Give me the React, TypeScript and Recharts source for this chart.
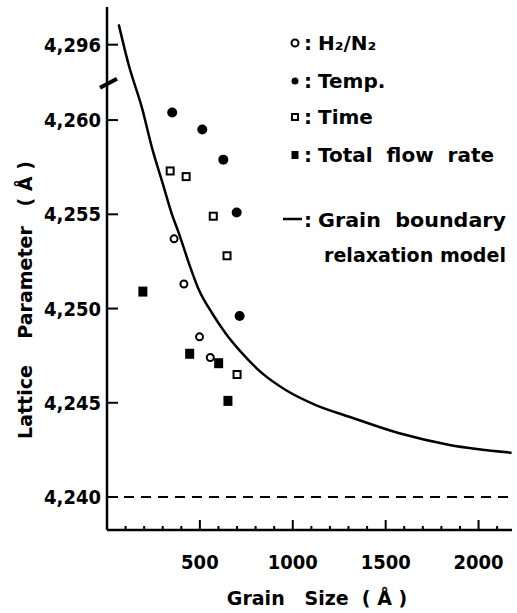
import { ComposedChart, Line, Scatter, XAxis, YAxis, ReferenceLine } from 'recharts'

const FONT = '"DejaVu Sans Condensed", "DejaVu Sans", sans-serif'
const WIDE = '"DejaVu Sans", sans-serif'

// measured points, [grain size (Å), lattice parameter (Å)]
const h2n2 = [
  { x: 361, y: 4.2537 },
  { x: 414, y: 4.2513 },
  { x: 498, y: 4.2485 },
  { x: 556, y: 4.2474 },
]
const temp = [
  { x: 351, y: 4.2604 },
  { x: 513, y: 4.2595 },
  { x: 626, y: 4.2579 },
  { x: 698, y: 4.2551 },
  { x: 714, y: 4.2496 },
]
const time = [
  { x: 340, y: 4.2573 },
  { x: 426, y: 4.257 },
  { x: 572, y: 4.2549 },
  { x: 646, y: 4.2528 },
  { x: 700, y: 4.2465 },
]
const flowRate = [
  { x: 193, y: 4.2509 },
  { x: 445, y: 4.2476 },
  { x: 601, y: 4.2471 },
  { x: 651, y: 4.2451 },
]

// grain boundary relaxation model (top part sits above the axis break)
const model = [
  { x: 63, y: 4.26508 },
  { x: 117, y: 4.26292 },
  { x: 189, y: 4.26062 },
  { x: 243, y: 4.2585 },
  { x: 297, y: 4.25673 },
  { x: 351, y: 4.25496 },
  { x: 387, y: 4.25399 },
  { x: 441, y: 4.2524 },
  { x: 495, y: 4.25098 },
  { x: 566, y: 4.24975 },
  { x: 639, y: 4.24868 },
  { x: 728, y: 4.24762 },
  { x: 836, y: 4.24656 },
  { x: 962, y: 4.24568 },
  { x: 1124, y: 4.24488 },
  { x: 1304, y: 4.24426 },
  { x: 1574, y: 4.24338 },
  { x: 1844, y: 4.24276 },
  { x: 2178, y: 4.24235 },
]

const bulkValue = 4.24

const xTicks = [
  100, 200, 300, 400, 500, 600, 700, 800, 900, 1000, 1100, 1200, 1300, 1400, 1500, 1600, 1700,
  1800, 1900, 2000, 2100,
]
const xLabelTicks = [500, 1000, 1500, 2000]
const yTicks = [4.24, 4.245, 4.25, 4.255, 4.26, 4.264]
const yTickLabels = ['4,240', '4,245', '4,250', '4,255', '4,260', '4,296']

const XTick = (props: any) => {
  const { x, y, payload } = props
  const major = xLabelTicks.includes(payload.value)
  return (
    <g>
      <line x1={x} y1={y} x2={x} y2={y - (major ? 10 : 4)} stroke="#000" strokeWidth={2} />
      {major && (
        <text x={x} y={y + 39} textAnchor="middle" fontFamily={FONT} fontWeight="bold" fontSize={20} fill="#000">
          {payload.value}
        </text>
      )}
    </g>
  )
}

const YTick = (props: any) => {
  const { x, y, payload } = props
  const i = yTicks.indexOf(payload.value)
  return (
    <g>
      <line x1={x} y1={y} x2={x + 11} y2={y} stroke="#000" strokeWidth={2} />
      <text x={x - 6} y={y + 7} textAnchor="end" fontFamily={FONT} fontWeight="bold" fontSize={20} fill="#000">
        {yTickLabels[i]}
      </text>
      {i === yTicks.length - 1 && (
        <line x1={x - 7} y1={y + 43} x2={x + 10} y2={y + 34} stroke="#000" strokeWidth={4} />
      )}
    </g>
  )
}

const openCircle = (p: any) => <circle cx={p.cx} cy={p.cy} r={3.5} fill="#fff" stroke="#000" strokeWidth={2} />
const filledCircle = (p: any) => <circle cx={p.cx} cy={p.cy} r={5} fill="#000" />
const openSquare = (p: any) => (
  <rect x={p.cx - 3.5} y={p.cy - 3.5} width={7} height={7} fill="#fff" stroke="#000" strokeWidth={2} />
)
const filledSquare = (p: any) => <rect x={p.cx - 4.5} y={p.cy - 5} width={9} height={10} fill="#000" />

const legendRows = [
  { label: 'H₂/N₂', y: 43, mark: 'oc' },
  { label: 'Temp.', y: 81, mark: 'fc' },
  { label: 'Time', y: 117, mark: 'os' },
  { label: 'Total  flow  rate', y: 155, mark: 'fs' },
]

export default function App() {
  return (
    <div style={{ position: 'absolute', left: 0, top: 0, width: 517, height: 613, background: '#fff' }}>
      <ComposedChart width={517} height={613} margin={{ top: 7, right: 5, bottom: 0, left: 0 }}>
        <XAxis
          xAxisId="x"
          dataKey="x"
          type="number"
          domain={[0, 2180]}
          allowDataOverflow
          ticks={xTicks}
          interval={0}
          tickSize={0}
          tickMargin={0}
          tick={XTick}
          height={83}
          axisLine={{ stroke: '#000', strokeWidth: 2.5 }}
        />
        <XAxis xAxisId="top" orientation="top" type="number" domain={[0, 2180]} height={0} tick={false} tickLine={false} axisLine={{ stroke: '#000', strokeWidth: 2.5 }} />
        <YAxis
          yAxisId="y"
          dataKey="y"
          type="number"
          domain={[4.23825, 4.266]}
          allowDataOverflow
          ticks={yTicks}
          interval={0}
          tickSize={0}
          tickMargin={0}
          tick={YTick}
          width={107}
          axisLine={{ stroke: '#000', strokeWidth: 2.5 }}
        />
        <YAxis yAxisId="right" orientation="right" type="number" domain={[4.23825, 4.266]} width={0} tick={false} tickLine={false} axisLine={{ stroke: '#000', strokeWidth: 2.5 }} />
        <ReferenceLine xAxisId="x" yAxisId="y" y={bulkValue} stroke="#000" strokeWidth={2} strokeDasharray="10 7" />
        <Line
          xAxisId="x"
          yAxisId="y"
          data={model}
          dataKey="y"
          type="monotone"
          stroke="#000"
          strokeWidth={2.5}
          dot={false}
          isAnimationActive={false}
        />
        <Scatter xAxisId="x" yAxisId="y" data={h2n2} shape={openCircle} isAnimationActive={false} />
        <Scatter xAxisId="x" yAxisId="y" data={temp} shape={filledCircle} isAnimationActive={false} />
        <Scatter xAxisId="x" yAxisId="y" data={time} shape={openSquare} isAnimationActive={false} />
        <Scatter xAxisId="x" yAxisId="y" data={flowRate} shape={filledSquare} isAnimationActive={false} />
      </ComposedChart>
      <svg width={517} height={613} style={{ position: 'absolute', left: 0, top: 0, pointerEvents: 'none' }}>
        <g fontFamily={WIDE} fontWeight="bold" fontSize={20} fill="#000">
          {legendRows.map((r) => (
            <g key={r.label}>
              {r.mark === 'oc' && openCircle({ cx: 295, cy: r.y })}
              {r.mark === 'fc' && <circle cx={295} cy={r.y} r={3.5} fill="#000" />}
              {r.mark === 'os' && <rect x={292} y={r.y - 3} width={6} height={6} fill="#fff" stroke="#000" strokeWidth={2} />}
              {r.mark === 'fs' && <rect x={291.5} y={r.y - 4} width={7} height={8} fill="#000" />}
              <text x={304} y={r.y + 7}>:</text>
              <text x={318} y={r.y + 7} xmlSpace="preserve">{r.label}</text>
            </g>
          ))}
          <line x1={283} y1={219} x2={302} y2={219} stroke="#000" strokeWidth={2.5} />
          <text x={304} y={227}>:</text>
          <text x={318} y={227} xmlSpace="preserve" textLength={188} lengthAdjust="spacingAndGlyphs">
            Grain  boundary
          </text>
          <text x={324} y={262} textLength={182} lengthAdjust="spacingAndGlyphs">
            relaxation model
          </text>
          <text x={317} y={605} textAnchor="middle" fontSize={19} xmlSpace="preserve">Grain   Size  ( Å )</text>
          <text
            transform="translate(32, 300) rotate(-90)"
            textAnchor="middle"
            fontSize={19}
            xmlSpace="preserve"
          >
            Lattice    Parameter   ( Å )
          </text>
        </g>
      </svg>
    </div>
  )
}
